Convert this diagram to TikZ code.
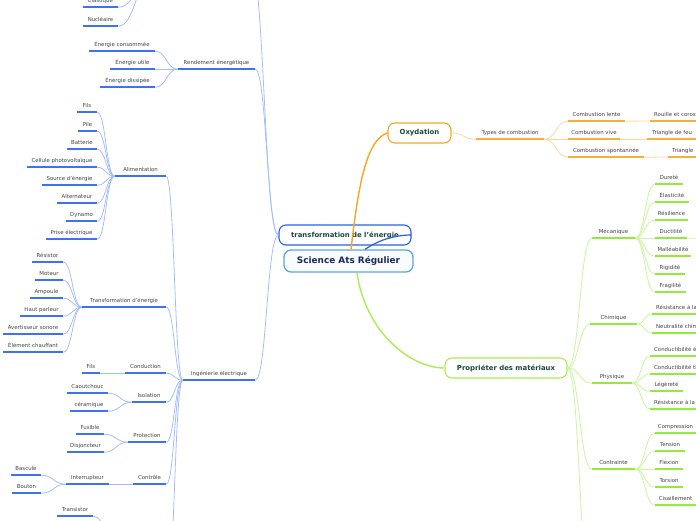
\documentclass[tikz,border=0pt]{standalone}
\usepackage{fontspec}
\setmainfont{DejaVu Sans}
\usetikzlibrary{calc}
\definecolor{bul}{HTML}{3D72F2}
\definecolor{bcn}{HTML}{A6BEF7}
\definecolor{gul}{HTML}{92EA3C}
\definecolor{gcn}{HTML}{CBF59E}
\definecolor{oul}{HTML}{F9AE3C}
\definecolor{ocn}{HTML}{FDD99E}
\definecolor{txt}{HTML}{444444}
\definecolor{mtx}{HTML}{1A4A3C}
\definecolor{rtx}{HTML}{1C2A5C}
\definecolor{rootb}{HTML}{5DA6DD}
\definecolor{trb}{HTML}{2A5FE8}
\definecolor{oxb}{HTML}{F6A623}
\definecolor{prb}{HTML}{A9EE50}
\definecolor{rootfill}{HTML}{F8FCFF}
\tikzset{
 leaf/.style={inner sep=0pt, minimum height=13pt, text height=3.9pt, text depth=0pt, font=\fontsize{5.4}{6}\selectfont, text=txt},
 ulb/.style={draw=bul, line width=1.7pt},
 ulg/.style={draw=gul, line width=1.7pt},
 ulo/.style={draw=oul, line width=1.7pt},
 cnb/.style={draw=bcn, line width=0.8pt},
 cng/.style={draw=gcn, line width=0.8pt},
 cno/.style={draw=ocn, line width=0.8pt},
 mbox/.style={rounded corners=7pt, line width=1.1pt, fill=white, inner sep=0pt, font=\fontsize{6.9}{8}\selectfont\bfseries, text=mtx},
}
\newcommand\mmn[6]{\node[leaf, minimum width={#4-#3}] (#2) at ({(#3+#4)/2},{#5-6.5}) {#6};\draw[ul#1] (#2.south west) -- (#2.south east);}
\newcommand\mmt[5]{\node[leaf, inner xsep=4pt, anchor=south west] (#2) at (#3,#4) {#5};\draw[ul#1] (#2.south west) -- (#2.south east);}
\newcommand\mmc[3]{\draw[cn#1] let \p1=(#2), \p2=(#3) in (\p1) .. controls ({0.5*\x1+0.5*\x2},\y1) and ({0.5*\x1+0.5*\x2},\y2) .. (\p2);}
\begin{document}
\begin{tikzpicture}[x=1pt,y=-1pt]
\useasboundingbox (0,0) rectangle (696,520);
\clip (0,0) rectangle (696,520);
% off-canvas points
\coordinate (topP) at (250,-40);
\coordinate (pE) at (152,-20);
\coordinate (botI) at (166,600);
\coordinate (traP) at (118,548);
\coordinate (botP) at (592,600);
\coordinate (ducP) at (720,238);
% main boxes
\node[mbox, draw=trb, minimum width=132pt, minimum height=20pt] (tr) at (345,235) {transformation de l'énergie};
\node[mbox, draw=oxb, minimum width=63pt, minimum height=20pt] (oxy) at (419.5,133) {Oxydation};
\node[mbox, draw=prb, minimum width=122pt, minimum height=20pt] (prop) at (506,368) {Propriéter des matériaux};
% blue branch nodes
\mmn{b}{ren}{178}{255}{69}{Rendement énergétique}
\mmn{b}{ec}{89}{155}{51}{Énergie consommée}
\mmn{b}{eu}{110}{155}{69}{Énergie utile}
\mmn{b}{ed}{100}{155}{87}{Énergie dissipée}
\mmn{b}{ela}{83}{118}{7}{Élastique}
\mmn{b}{nuc}{83}{118}{26}{Nucléaire}
\mmn{b}{ing}{183}{255}{380}{Ingénierie électrique}
\mmn{b}{ali}{115}{166}{176}{Alimentation}
\mmn{b}{fila}{77}{97}{112}{Fils}
\mmn{b}{pil}{78}{97}{131}{Pile}
\mmn{b}{bat}{67}{97}{149}{Batterie}
\mmn{b}{cel}{27}{97}{167}{Cellule photovoltaïque}
\mmn{b}{src}{42}{97}{185}{Source d'énergie}
\mmn{b}{alt}{57}{97}{203}{Alternateur}
\mmn{b}{dyn}{66}{97}{221}{Dynamo}
\mmn{b}{pri}{46}{97}{239}{Prise électrique}
\mmn{b}{tde}{82}{166}{307}{Transformation d'énergie}
\mmn{b}{res}{32}{63}{262}{Résistor}
\mmn{b}{mot}{35}{63}{280}{Moteur}
\mmn{b}{amp}{30}{63}{298}{Ampoule}
\mmn{b}{hp}{20}{63}{316}{Haut parleur}
\mmn{b}{avs}{3}{63}{334}{Avertisseur sonore}
\mmn{b}{elc}{3}{63}{352}{Élément chauffant}
\mmn{b}{cond}{125}{166}{373}{Conduction}
\mmn{b}{filb}{82}{100}{373}{Fils}
\mmn{b}{iso}{132}{166}{402}{Isolation}
\mmn{b}{cao}{67}{108}{393}{Caoutchouc}
\mmn{b}{cer}{70}{108}{411}{céramique}
\mmn{b}{pro}{128}{166}{442}{Protection}
\mmn{b}{fus}{76}{104}{434}{Fusible}
\mmn{b}{dis}{67}{104}{452}{Disjoncteur}
\mmn{b}{ctl}{133}{166}{484}{Contrôle}
\mmn{b}{intr}{66}{109}{484}{Interrupteur}
\mmn{b}{bas}{11}{41}{475}{Bascule}
\mmn{b}{bou}{12}{41}{493}{Bouton}
\mmn{b}{tra}{57}{93}{516}{Transistor}
% green branch nodes
\mmn{g}{mec}{592}{635}{238}{Mécanique}
\mmn{g}{dur}{655}{683}{184}{Dureté}
\mmn{g}{elas}{655}{689}{202}{Élasticité}
\mmn{g}{resi}{655}{688}{220}{Résilience}
\mmn{g}{duc}{655}{687}{238}{Ductilité}
\mmn{g}{mal}{655}{691}{256}{Malléabilité}
\mmn{g}{rig}{655}{685}{274}{Rigidité}
\mmn{g}{fra}{655}{686}{292}{Fragilité}
\mmn{g}{chi}{590}{637}{324}{Chimique}
\mmt{g}{rc}{652}{314}{Résistance à la corrosion}
\mmt{g}{nc}{652}{333}{Neutralité chimique}
\mmn{g}{phy}{592}{632}{383}{Physique}
\mmt{g}{ce}{650}{356}{Conductibilité électrique}
\mmt{g}{ct}{650}{374}{Conductibilité thermique}
\mmn{g}{leg}{650}{683}{391}{Légèreté}
\mmt{g}{rch}{650}{409}{Résistance à la chaleur}
\mmn{g}{con}{592}{635}{469}{Contrainte}
\mmn{g}{com}{655}{696}{433}{Compression}
\mmn{g}{ten}{655}{685}{451}{Tension}
\mmn{g}{fle}{655}{683}{469}{Flexion}
\mmn{g}{tor}{655}{683}{487}{Torsion}
\mmn{g}{cis}{655}{696}{505}{Cisaillement}
% orange branch nodes
\mmn{o}{typ}{476}{544}{139}{Types de combustion}
\mmn{o}{cl}{568}{625}{121}{Combustion lente}
\mmn{o}{cv}{568}{620}{139}{Combustion vive}
\mmn{o}{cs}{568}{644}{157}{Combustion spontannée}
\mmt{o}{rou}{650}{121}{Rouille et corosion}
\mmn{o}{tf}{647}{697}{139}{Triangle de feu}
\mmt{o}{tri}{668}{157}{Triangle}
% blue connectors
\mmc{b}{tr.west}{ren.south east}
\mmc{b}{tr.west}{topP}
\mmc{b}{tr.west}{ing.south east}
\mmc{b}{ren.south west}{ec.south east}
\mmc{b}{ren.south west}{eu.south east}
\mmc{b}{ren.south west}{ed.south east}
\mmc{b}{ela.south east}{pE}
\mmc{b}{nuc.south east}{pE}
\mmc{b}{ing.south west}{ali.south east}
\mmc{b}{ing.south west}{tde.south east}
\mmc{b}{ing.south west}{cond.south east}
\mmc{b}{ing.south west}{iso.south east}
\mmc{b}{ing.south west}{pro.south east}
\mmc{b}{ing.south west}{ctl.south east}
\mmc{b}{ing.south west}{botI}
\foreach \c in {fila,pil,bat,cel,src,alt,dyn,pri}{\mmc{b}{ali.south west}{\c.south east}}
\foreach \c in {res,mot,amp,hp,avs,elc}{\mmc{b}{tde.south west}{\c.south east}}
\mmc{b}{cond.south west}{filb.south east}
\mmc{b}{iso.south west}{cao.south east}
\mmc{b}{iso.south west}{cer.south east}
\mmc{b}{pro.south west}{fus.south east}
\mmc{b}{pro.south west}{dis.south east}
\mmc{b}{ctl.south west}{intr.south east}
\mmc{b}{intr.south west}{bas.south east}
\mmc{b}{intr.south west}{bou.south east}
\mmc{b}{tra.south east}{traP}
% green connectors
\foreach \c in {mec,chi,phy,con}{\mmc{g}{prop.east}{\c.south west}}
\mmc{g}{prop.east}{botP}
\foreach \c in {dur,elas,resi,duc,mal,rig,fra}{\mmc{g}{mec.south east}{\c.south west}}
\mmc{g}{duc.south east}{ducP}
\foreach \c in {rc,nc}{\mmc{g}{chi.south east}{\c.south west}}
\foreach \c in {ce,ct,leg,rch}{\mmc{g}{phy.south east}{\c.south west}}
\foreach \c in {com,ten,fle,tor,cis}{\mmc{g}{con.south east}{\c.south west}}
% orange connectors
\mmc{o}{oxy.east}{typ.south west}
\foreach \c in {cl,cv,cs}{\mmc{o}{typ.south east}{\c.south west}}
\mmc{o}{cl.south east}{rou.south west}
\mmc{o}{cv.south east}{tf.south west}
\mmc{o}{cs.south east}{tri.south west}
% root
\node[mbox, draw=rootb, fill=rootfill, line width=1.3pt, minimum width=129pt, minimum height=22pt, font=\fontsize{8.9}{10}\selectfont\bfseries, text=rtx] (root) at (348.5,261) {Science Ats Régulier};
\draw[draw=oxb, line width=1.4pt] ([xshift=2.5pt]root.north) .. controls +(7,-60) and +(-22,7) .. (oxy.west);
\draw[draw=trb, line width=1.2pt] ([xshift=16.5pt]root.north) .. controls +(15,-10) and +(-16,0) .. (tr.east);
\draw[draw=prb, line width=1.4pt] ([xshift=8.5pt]root.south) .. controls +(8,58) and +(-35,0) .. (prop.west);
\end{tikzpicture}
\end{document}
